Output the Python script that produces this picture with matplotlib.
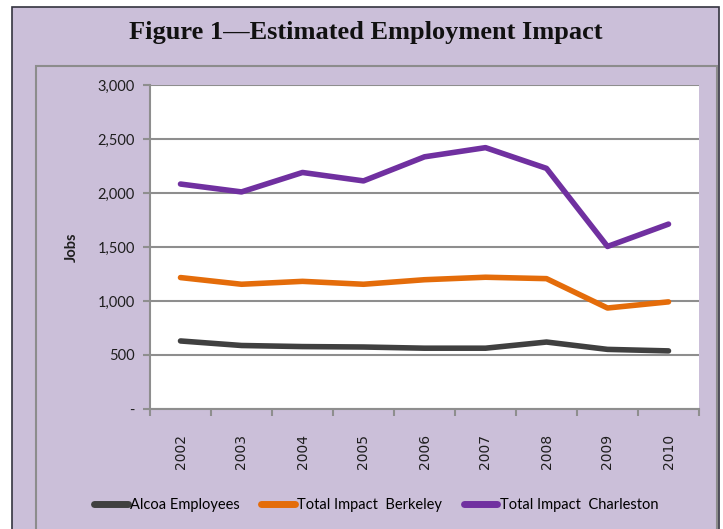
import matplotlib
matplotlib.use("Agg")
import matplotlib.pyplot as plt
from matplotlib.patches import Rectangle
from matplotlib.lines import Line2D

years = ["2002", "2003", "2004", "2005", "2006", "2007", "2008", "2009", "2010"]
alcoa = [630, 588, 578, 574, 563, 563, 620, 552, 538]
berkeley = [1217, 1155, 1182, 1155, 1197, 1220, 1207, 935, 992]
charleston = [2083, 2010, 2190, 2112, 2335, 2420, 2228, 1505, 1712]
series_names = ["Alcoa Employees", "Total Impact  Berkeley", "Total Impact  Charleston"]
yticks = [0, 500, 1000, 1500, 2000, 2500, 3000]
ytick_labels = ["-", "500", "1,000", "1,500", "2,000", "2,500", "3,000"]

W, H = 723, 529
LAV = "#cbbfd9"
GRID = "#8e8e8e"
TXT = "#1e1e1e"
colors = ["#404040", "#e46c0a", "#7030a0"]

fig = plt.figure(figsize=(W / 100, H / 100), dpi=100)
fig.patch.set_facecolor("white")

def fx(px):
    return px / W

def fy(py):
    return 1 - py / H

# outer lavender panel with dark border
fig.patches.append(Rectangle((fx(12), fy(535)), fx(719) - fx(12), fy(7) - fy(535),
                             transform=fig.transFigure, facecolor=LAV,
                             edgecolor="#34343f", linewidth=1.2, zorder=-10))
# inner chart box
fig.patches.append(Rectangle((fx(36), fy(535)), fx(717) - fx(36), fy(66) - fy(535),
                             transform=fig.transFigure, facecolor=LAV,
                             edgecolor="#8c8c8c", linewidth=1.5, zorder=-9))

fig.text(fx(366), fy(33), "Figure 1\u2014Estimated Employment Impact",
         family="Liberation Serif", fontweight="bold", fontsize=19,
         ha="center", va="center", color="#111111")

ax = fig.add_axes([fx(150), fy(409), fx(699) - fx(150), fy(85) - fy(409)])
ax.set_zorder(1)
ax.set_facecolor("white")

x = list(range(len(years)))
for vals, c, name in zip([alcoa, berkeley, charleston], colors, series_names):
    ax.plot(x, vals, color=c, linewidth=4, solid_capstyle="round",
            solid_joinstyle="round", label=name, zorder=3)

ax.set_xlim(-0.5, len(years) - 0.5)
ax.set_ylim(0, 3000)
ax.set_yticks(yticks)
ax.set_yticklabels(ytick_labels, family="Lato", fontsize=10.5, color=TXT)
ax.yaxis.grid(True, color=GRID, linewidth=1.5, zorder=1)
ax.set_axisbelow(True)

ax.set_xticks([i + 0.5 for i in range(-1, len(years))], minor=False)
ax.set_xticklabels([])
ax.set_xticks(x, minor=True)
ax.set_xticklabels(years, minor=True, rotation=90, family="DejaVu Sans",
                   fontsize=10, color=TXT)
ax.tick_params(axis="x", which="major", length=5, width=1.5, color=GRID, direction="out")
ax.tick_params(axis="x", which="minor", length=0, pad=18)
ax.tick_params(axis="y", length=5, width=1.5, color=GRID, direction="out", pad=6)

for s in ["top", "right"]:
    ax.spines[s].set_visible(False)
for s in ["left", "bottom"]:
    ax.spines[s].set_color(GRID)
    ax.spines[s].set_linewidth(1.5)

ax.set_ylabel("Jobs", family="Lato", fontweight="bold", fontsize=10.5, color=TXT, labelpad=13)

handles = [Line2D([0], [0], color=c, linewidth=5, solid_capstyle="round") for c in colors]
fig.legend(handles, series_names, loc="center", bbox_to_anchor=(fx(376), fy(505)),
           ncol=3, frameon=False, handlelength=2.3, handletextpad=0.15,
           columnspacing=1.5, prop={"family": "Lato", "size": 10.5})

fig.savefig("out.png", dpi=100, facecolor=fig.get_facecolor())
